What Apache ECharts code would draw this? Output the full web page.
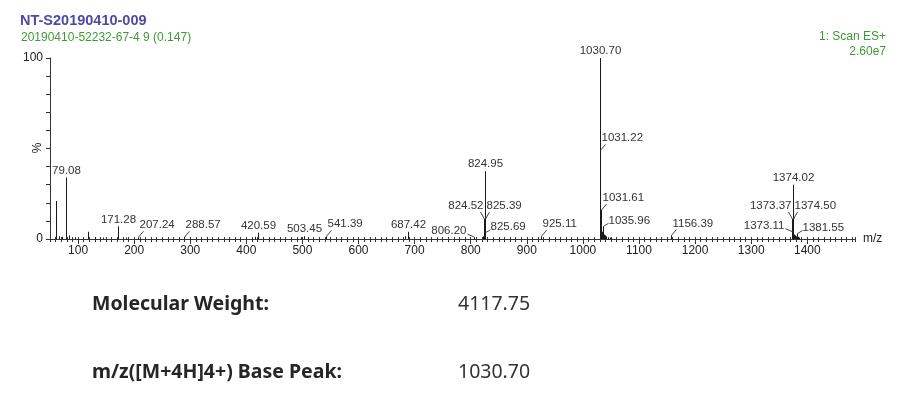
<!DOCTYPE html>
<html>
<head>
<meta charset="utf-8">
<script src="https://cdn.jsdelivr.net/npm/echarts@6/dist/echarts.min.js"></script>
<style>
  html, body { margin: 0; padding: 0; background: #fff; }
  #main { width: 906px; height: 398px; }
</style>
</head>
<body>
<div id="main"></div>
<script>
// spectrum peaks: m/z and relative intensity (%)
const peakMz = [61.0, 66.0, 72.0, 79.08, 84.0, 95.0, 118.0, 130.0, 145.0, 171.28, 186.0, 207.24,
  288.57, 330.0, 415.0, 420.59, 498.0, 503.45, 541.39, 683.0, 687.42, 806.2, 822.0, 824.52,
  824.95, 825.39, 825.69, 826.2, 925.11, 1030.7, 1031.22, 1031.61, 1032.5, 1033.2, 1034.0,
  1035.96, 1037.5, 1039.0, 1041.0, 1044.0, 1048.0, 1156.39, 1372.6, 1373.11, 1373.37, 1374.02,
  1374.5, 1374.8, 1375.3, 1376.2, 1377.5, 1380.0, 1381.55, 1383.0, 1386.0];
const peakPct = [21, 1.5, 1.2, 34, 2.0, 1.0, 4.0, 1.0, 0.8, 7, 0.8, 1.0,
  1.0, 0.6, 1.2, 3.5, 1.0, 1.5, 1.5, 1.5, 4.0, 1.0, 1.5, 11,
  37.5, 11, 3.5, 2.0, 1.5, 100, 49, 16, 5, 4, 3,
  7, 2.5, 2.0, 1.5, 1.0, 0.8, 2.0, 3.0, 4.0, 11, 30,
  11, 6, 4, 2.5, 2.0, 1.5, 3.0, 1.2, 0.8];

// annotated peaks
const labelMz = [79.08, 171.28, 207.24, 288.57, 420.59, 503.45, 541.39, 687.42, 806.2, 824.52,
  824.95, 825.39, 825.69, 925.11, 1030.7, 1031.22, 1031.61, 1035.96, 1156.39, 1373.11, 1373.37,
  1374.02, 1374.5, 1381.55];

const xTicks = [100, 200, 300, 400, 500, 600, 700, 800, 900, 1000, 1100, 1200, 1300, 1400];

const sampleName = "NT-S20190410-009";
const runName = "20190410-52232-67-4 9 (0.147)";
const scanName = "1: Scan ES+";
const scanMax = "2.60e7";
const yName = "%";
const infoRows = [["Molecular Weight:", "4117.75"], ["m/z([M+4H]4+) Base Peak:", "1030.70"]];

// where each label sits relative to its peak top
const labelSide = {
  "207.24": "ur", "288.57": "ur", "541.39": "ur", "925.11": "ur", "1031.22": "ur",
  "1031.61": "ur", "1156.39": "ur", "806.20": "l", "1373.11": "l", "825.69": "r",
  "1035.96": "r", "1381.55": "r", "824.52": "vl", "1373.37": "vl", "825.39": "vr",
  "1374.50": "vr"
};

function pctOf(mz) {
  return peakPct[peakMz.indexOf(mz)];
}

const peakData = peakMz.map((m, i) => [m, peakPct[i]]);
const labelData = labelMz.map((m) => [m, pctOf(m)]);

const myChart = echarts.init(document.getElementById("main"), null, { renderer: "canvas" });
const labelFont = "11.5px 'Liberation Sans', Arial, sans-serif";

function renderPeak(params, api) {
  const p0 = api.coord([api.value(0), 0]);
  const p1 = api.coord([api.value(0), api.value(1)]);
  const x = Math.round(p0[0]) + 0.5;
  return {
    type: "line",
    shape: { x1: x, y1: p0[1], x2: x, y2: p1[1] },
    style: { stroke: "#1a1a1a", lineWidth: 1 }
  };
}

function renderLabel(params, api) {
  const mz = api.value(0);
  const txt = mz.toFixed(2);
  const p = api.coord([mz, api.value(1)]);
  const px = Math.round(p[0]) + 0.5, py = p[1];
  const side = labelSide[txt] || "top";
  let tx = px, ty = py - 7, align = "center", lead = null;
  if (side === "ur") {
    tx = px + 1; ty = py - 12; align = "left";
    lead = [px, py, px + 5, py - 6];
  } else if (side === "r") {
    tx = px + 5; ty = py - 6; align = "left";
    lead = [px, py, px + 5, py - 3];
  } else if (side === "l") {
    tx = px - 8; ty = py - 6; align = "right";
    lead = [px, py, px - 7, py - 3];
  } else if (side === "vl") {
    tx = px - 1; ty = py - 13; align = "right";
    lead = [px, py, px - 4, py - 7];
  } else if (side === "vr") {
    tx = px + 1; ty = py - 13; align = "left";
    lead = [px, py, px + 4, py - 7];
  }
  const children = [{
    type: "text",
    x: tx, y: ty,
    style: { text: txt, font: labelFont, fill: "#333", textAlign: align, textVerticalAlign: "middle" }
  }];
  if (lead) {
    children.push({
      type: "line",
      shape: { x1: lead[0], y1: lead[1], x2: lead[2], y2: lead[3] },
      style: { stroke: "#444", lineWidth: 1 }
    });
  }
  return { type: "group", children: children };
}

const axisFont = { fontFamily: "'Liberation Sans', Arial, sans-serif", fontSize: 12, color: "#222" };

const option = {
  animation: false,
  backgroundColor: "#fff",
  grid: { left: 50, right: 51, top: 58, bottom: 159, containLabel: false, outerBoundsMode: "none" },
  xAxis: [
    {
      type: "value", min: 50, max: 1485, interval: 10, position: "bottom",
      axisLine: { lineStyle: { color: "#333", width: 1 } },
      axisTick: { length: 3, lineStyle: { color: "#333" } },
      axisLabel: Object.assign({ margin: 6, formatter: (v) => (xTicks.indexOf(v) >= 0 ? String(v) : "") }, axisFont),
      splitLine: { show: false },
      name: "m/z", nameLocation: "end", nameGap: 8,
      nameTextStyle: axisFont
    },
    {
      type: "value", min: 50, max: 1485, position: "bottom", offset: 0,
      axisLine: { show: false },
      axisTick: { length: 5, customValues: xTicks, lineStyle: { color: "#333" } },
      axisLabel: { show: false },
      splitLine: { show: false }
    },
    {
      type: "value", min: 50, max: 1485, interval: 10, position: "bottom", offset: 0,
      axisLine: { show: false },
      axisTick: { inside: true, length: 2, lineStyle: { color: "#333" } },
      axisLabel: { show: false },
      splitLine: { show: false }
    }
  ],
  yAxis: {
    type: "value", min: 0, max: 100, interval: 10,
    axisLine: { show: true, lineStyle: { color: "#333", width: 1 } },
    axisTick: { show: true, length: 4, lineStyle: { color: "#333" } },
    axisLabel: Object.assign({ margin: 7, formatter: (v) => (v === 0 || v === 100 ? String(v) : "") }, axisFont),
    splitLine: { show: false }
  },
  series: [
    {
      type: "custom", name: "spectrum", renderItem: renderPeak,
      encode: { x: 0, y: 1 }, data: peakData, clip: false, silent: true
    },
    {
      type: "custom", name: "labels", renderItem: renderLabel,
      encode: { x: 0, y: 1 }, data: labelData, clip: false, silent: true, z: 3
    }
  ],
  graphic: [
    {
      type: "text", x: 20, y: 21,
      style: { text: sampleName, font: "bold 14.5px 'Liberation Sans', Arial, sans-serif", fill: "#4b4ba3", textVerticalAlign: "middle" }
    },
    {
      type: "text", x: 21, y: 38,
      style: { text: runName, font: "12px 'Liberation Sans', Arial, sans-serif", fill: "#3f9a35", textVerticalAlign: "middle" }
    },
    {
      type: "text", x: 886, y: 37,
      style: { text: scanName, font: "12px 'Liberation Sans', Arial, sans-serif", fill: "#3f9a35", textAlign: "right", textVerticalAlign: "middle" }
    },
    {
      type: "text", x: 886, y: 52,
      style: { text: scanMax, font: "12px 'Liberation Sans', Arial, sans-serif", fill: "#3f9a35", textAlign: "right", textVerticalAlign: "middle" }
    },
    {
      type: "text", x: 38, y: 148, rotation: Math.PI / 2,
      style: { text: yName, font: "12px 'Liberation Sans', Arial, sans-serif", fill: "#222", textAlign: "center", textVerticalAlign: "middle" }
    }
  ].concat(infoRows.flatMap((row, i) => [
    {
      type: "text", x: 92, y: 304 + i * 68,
      style: { text: row[0], font: "bold 19.5px 'Noto Sans', sans-serif", fill: "#262626", textVerticalAlign: "middle" }
    },
    {
      type: "text", x: 458, y: 304 + i * 68,
      style: { text: row[1], font: "19.5px 'Noto Sans', sans-serif", fill: "#333", textVerticalAlign: "middle" }
    }
  ]))
};

myChart.setOption(option);
</script>
</body>
</html>
